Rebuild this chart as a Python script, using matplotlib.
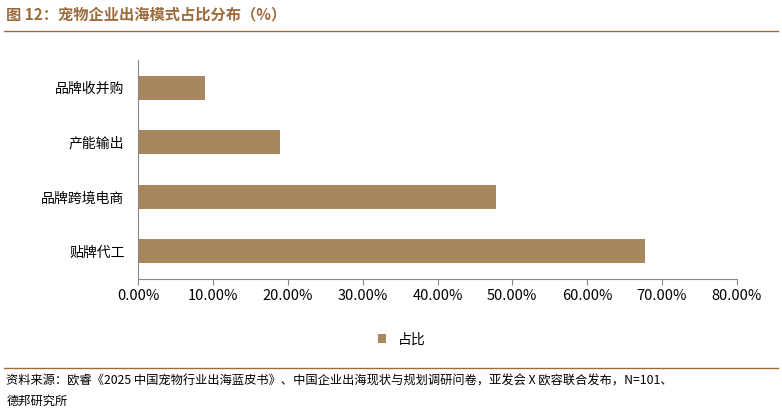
import matplotlib.pyplot as plt

plt.rcParams['font.family'] = ['Noto Sans CJK SC', 'DejaVu Sans']

categories = ['贴牌代工', '品牌跨境电商', '产能输出', '品牌收并购']
values = [67.8, 47.8, 18.9, 8.9]
ticks = [0, 10, 20, 30, 40, 50, 60, 70, 80]

bar_color = '#A8865E'
title_color = '#9C6B3C'

fig = plt.figure(figsize=(7.82, 4.16), dpi=100)
ax = fig.add_axes([0.177, 0.33, 0.765, 0.525])

ax.barh(range(len(categories)), values, height=0.44, color=bar_color, label='占比')
ax.set_yticks(range(len(categories)))
ax.set_yticklabels(categories, fontsize=10)
ax.set_xlim(0, 80)
ax.set_ylim(-0.5, 3.5)
ax.set_xticks(ticks)
ax.set_xticklabels([f'{t:.2f}%' for t in ticks], fontsize=10.5)
for s in ['top', 'right']:
    ax.spines[s].set_visible(False)
ax.spines['left'].set_color('#888888')
ax.spines['bottom'].set_color('#888888')
ax.tick_params(axis='y', length=0, pad=10)
ax.tick_params(axis='x', length=4, color='#888888')

ax.legend(loc='upper center', bbox_to_anchor=(0.44, -0.19), frameon=False,
          fontsize=10, handlelength=0.6, handleheight=0.6)

fig.text(0.008, 0.965, '图 12：宠物企业出海模式占比分布（%）', fontsize=11,
         fontweight='bold', color=title_color, va='center')
fig.add_artist(plt.Line2D([0.005, 0.995], [0.925, 0.925], color=title_color, lw=1))
fig.add_artist(plt.Line2D([0.005, 0.995], [0.115, 0.115], color=title_color, lw=1))
fig.text(0.008, 0.083, '资料来源：欧睿《2025 中国宠物行业出海蓝皮书》、中国企业出海现状与规划调研问卷，亚发会 X 欧容联合发布，N=101、',
         fontsize=8.8, va='center')
fig.text(0.008, 0.035, '德邦研究所', fontsize=8.8, va='center')

fig.savefig('out.png', dpi=100)
